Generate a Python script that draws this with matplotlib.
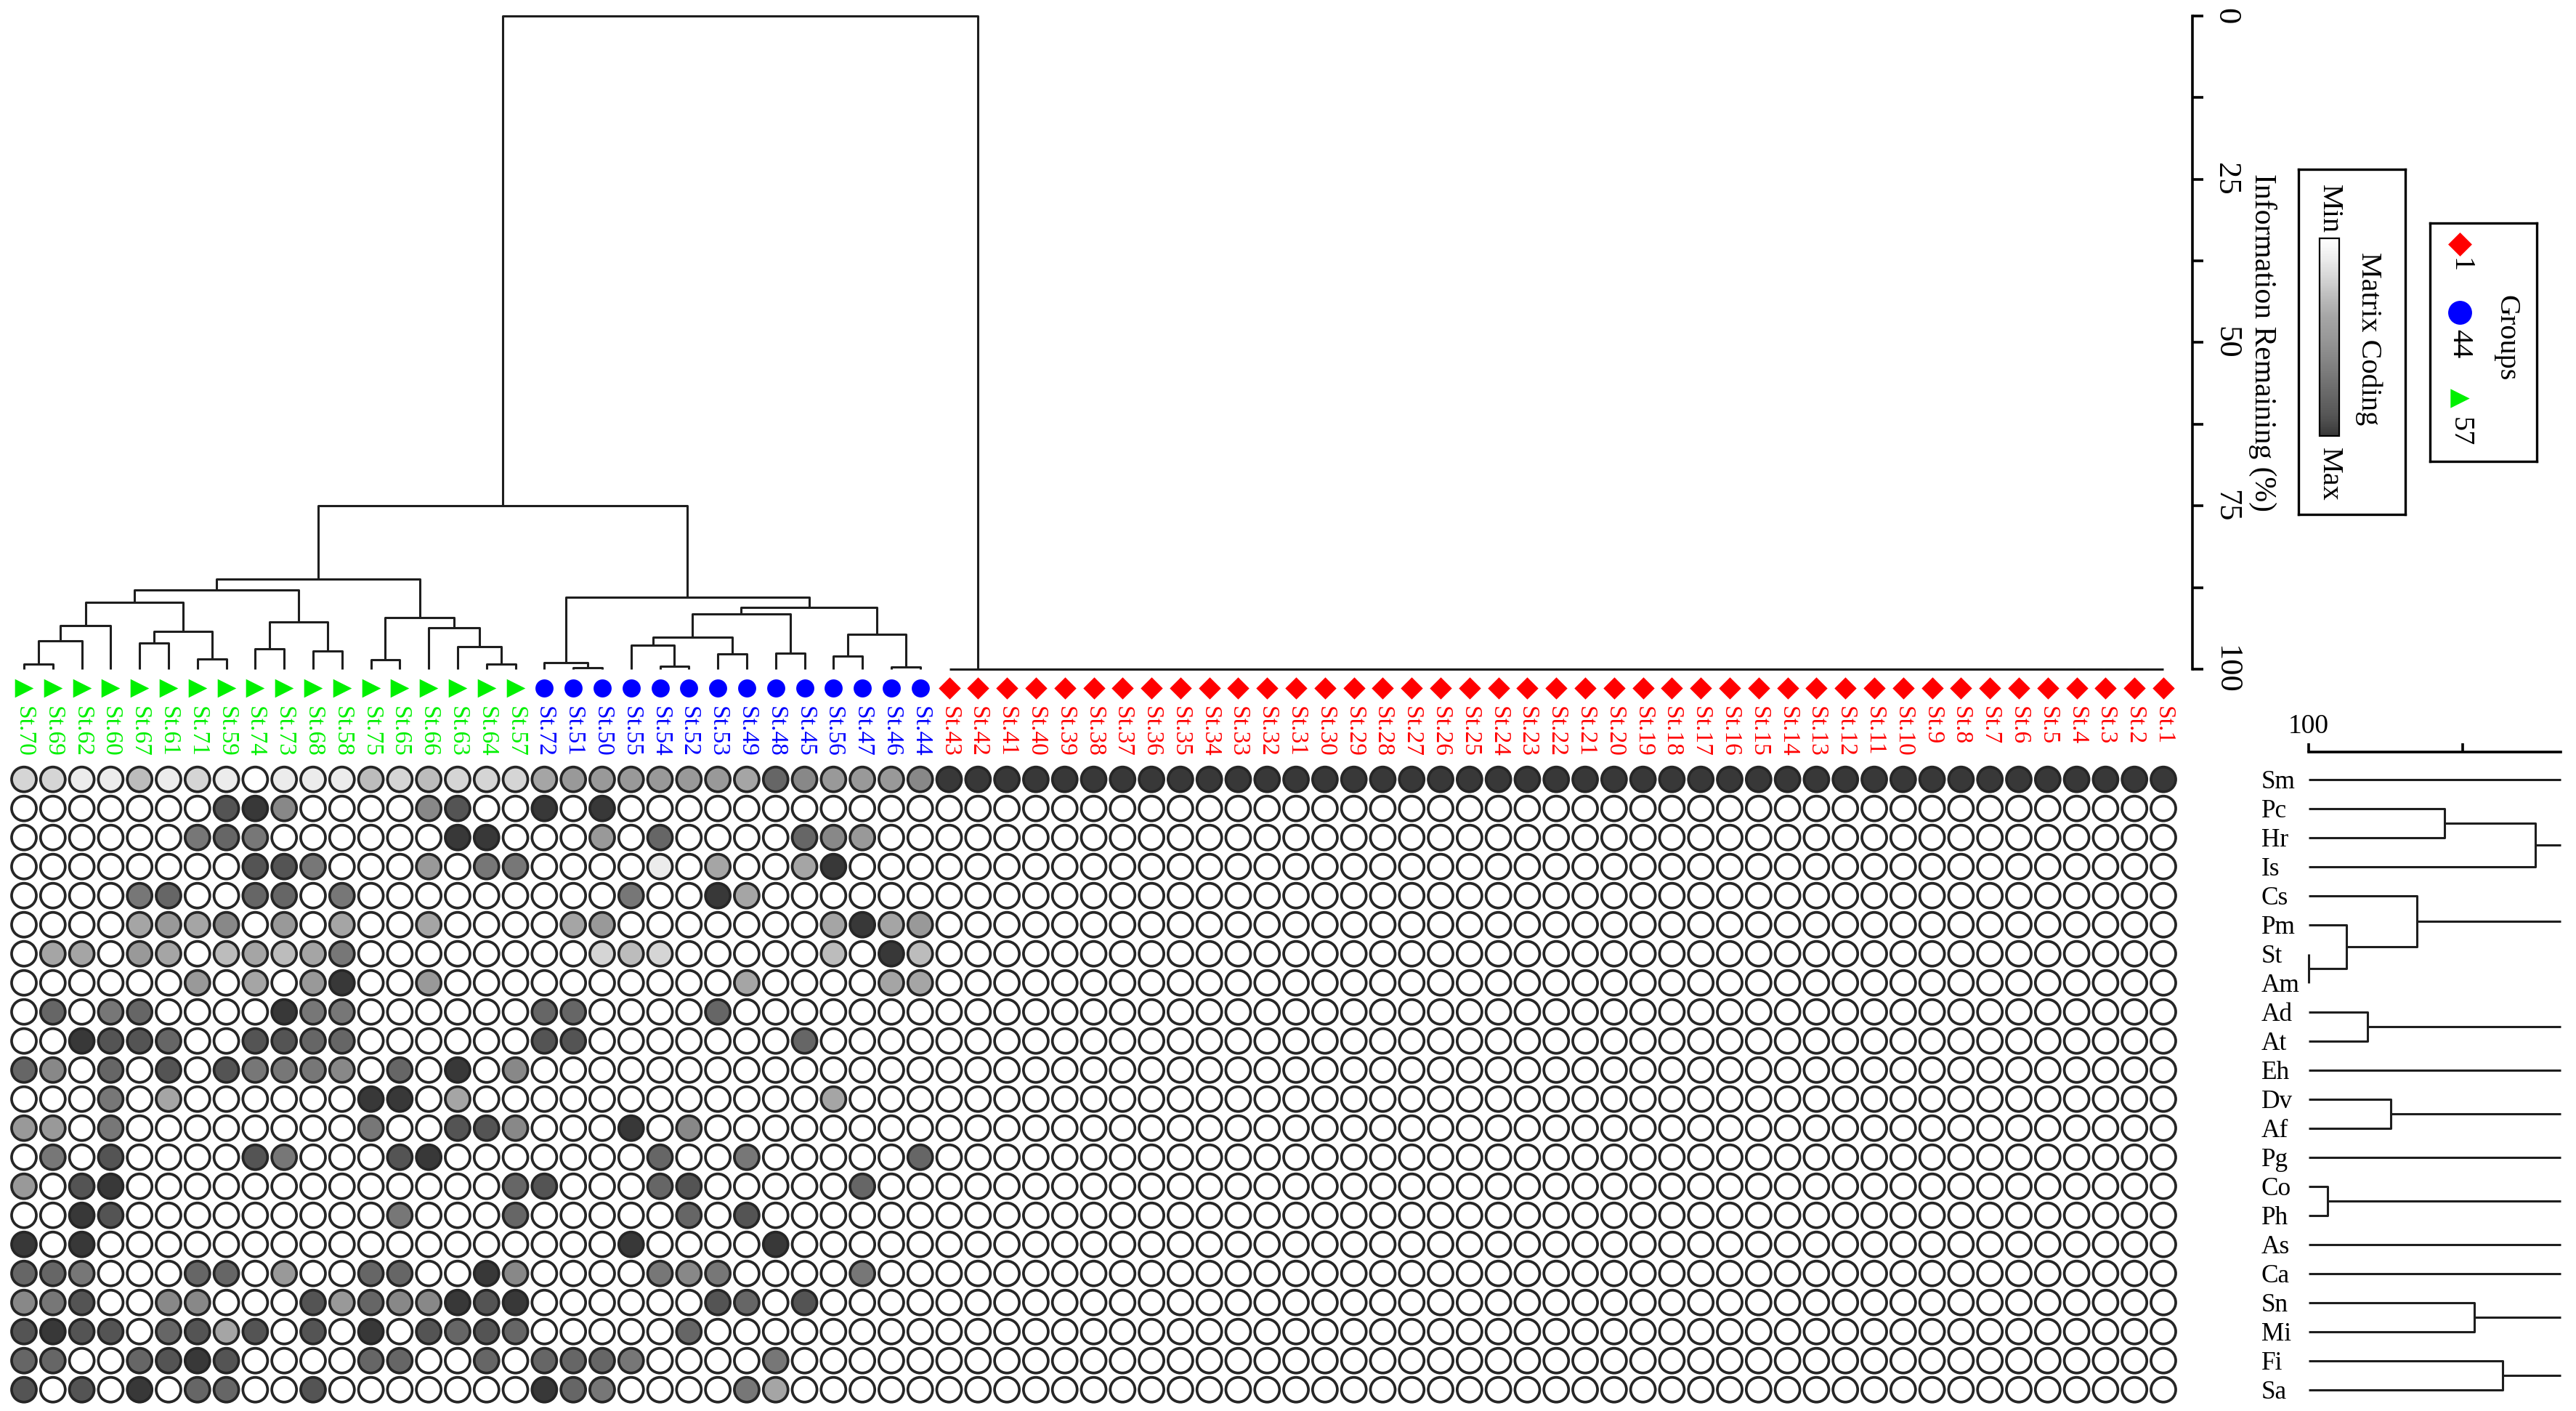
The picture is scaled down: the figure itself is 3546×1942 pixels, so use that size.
import numpy as np
import matplotlib
matplotlib.use("Agg")
import matplotlib.pyplot as plt
from matplotlib.colors import LinearSegmentedColormap, Normalize
from matplotlib.cm import ScalarMappable

plt.rcParams['font.family'] = ['Liberation Serif', 'DejaVu Serif']

W, H = 3546, 1942  # output size in px (dpi 200)

# ---- stations, in dendrogram order (left to right) ----
green_st = ['St.70', 'St.69', 'St.62', 'St.60', 'St.67', 'St.61', 'St.71', 'St.59', 'St.74',
            'St.73', 'St.68', 'St.58', 'St.75', 'St.65', 'St.66', 'St.63', 'St.64', 'St.57']
blue_st = ['St.72', 'St.51', 'St.50', 'St.55', 'St.54', 'St.52', 'St.53', 'St.49', 'St.48',
           'St.45', 'St.56', 'St.47', 'St.46', 'St.44']
red_st = ['St.43', 'St.42', 'St.41', 'St.40', 'St.39', 'St.38', 'St.37', 'St.36', 'St.35',
          'St.34', 'St.33', 'St.32', 'St.31', 'St.30', 'St.29', 'St.28', 'St.27', 'St.26',
          'St.25', 'St.24', 'St.23', 'St.22', 'St.21', 'St.20', 'St.19', 'St.18', 'St.17',
          'St.16', 'St.15', 'St.14', 'St.13', 'St.12', 'St.11', 'St.10', 'St.9', 'St.8',
          'St.7', 'St.6', 'St.5', 'St.4', 'St.3', 'St.2', 'St.1']

groups = ['1', '44', '57']
group_members = {'1': red_st, '44': blue_st, '57': green_st}
group_color = {'1': '#ff0000', '44': '#0000ff', '57': '#00f000'}
group_marker = {'1': 'D', '44': 'o', '57': '>'}

variables = ['Sm', 'Pc', 'Hr', 'Is', 'Cs', 'Pm', 'St', 'Am', 'Ad', 'At', 'Eh',
             'Dv', 'Af', 'Pg', 'Co', 'Ph', 'As', 'Ca', 'Sn', 'Mi', 'Fi', 'Sa']

# ---- matrix coding: 0 = min (white) ... X = max (darkest) ----
RED_MAX = "XXXXXXXXXX" "XXXXXXXXXX" "XXXXXXXXXX" "XXXXXXXXXX" "XXX"
RED_NIL = "0000000000" "0000000000" "0000000000" "0000000000" "000"
coding = {
    'Sm': "2211312101113232" "2245555554865556" + RED_MAX,
    'Pc': "00000009X6000069" "00X0X00000000000" + RED_NIL,
    'Hr': "000000787000000X" "X000508000086500" + RED_NIL,
    'Is': "0000000099700050" "770000104004X000" + RED_NIL,
    'Cs': "0000780088070000" "00000700X4000000" + RED_NIL,
    'Pm': "0000454605040040" "0004500000004X45" + RED_NIL,
    'St': "0440540343470000" "00002320000030X3" + RED_NIL,
    'Am': "00000050405X0050" "0000000004000044" + RED_NIL,
    'Ad': "080780000X770000" "0088000080000000" + RED_NIL,
    'At': "00X9980099880000" "0099000000080000" + RED_NIL,
    'Eh': "860809097776080X" "0600000000000000" + RED_NIL,
    'Dv': "000704000000XX04" "0000000000004000" + RED_NIL,
    'Af': "5507000000007009" "96000X0600000000" + RED_NIL,
    'Pg': "07090000970009X0" "0000008007000008" + RED_NIL,
    'Co': "509X000000000000" "0890008900000800" + RED_NIL,
    'Ph': "00X9000000000700" "0800000809000000" + RED_NIL,
    'As': "X0X0000000000000" "00000X0000X00000" + RED_NIL,
    'Ca': "8870008805008800" "X600007670000700" + RED_NIL,
    'Sn': "679006600095866X" "9X00000098090000" + RED_NIL,
    'Mi': "9X9908949090X098" "9800000800000000" + RED_NIL,
    'Fi': "880089X900008800" "8088870000700000" + RED_NIL,
    'Sa': "9090X08800900000" "00X8700007400000" + RED_NIL,
}
code_greys = ['#ffffff', '#ececec', '#d5d5d5', '#bbbbbb', '#a5a5a5', '#999999',
              '#888888', '#777777', '#666666', '#555555', '#383838']

# ---- station dendrogram (information remaining, %) ----
station_merges = [
    ('g1', 'St.70', 'St.69', 99.2), ('g2', 'g1', 'St.62', 95.7), ('g3', 'g2', 'St.60', 93.3),
    ('g4', 'St.67', 'St.61', 96.0), ('g5', 'St.71', 'St.59', 98.4), ('g6', 'g4', 'g5', 94.2),
    ('g7', 'g3', 'g6', 89.8), ('g8', 'St.74', 'St.73', 96.9), ('g9', 'St.68', 'St.58', 97.2),
    ('g10', 'g8', 'g9', 92.8), ('g11', 'g7', 'g10', 87.9), ('g12', 'St.75', 'St.65', 98.6),
    ('g13', 'St.64', 'St.57', 99.2), ('g14', 'St.63', 'g13', 96.6), ('g15', 'St.66', 'g14', 93.7),
    ('g16', 'g12', 'g15', 92.1), ('G', 'g11', 'g16', 86.2),
    ('b1', 'St.51', 'St.50', 99.8), ('b2', 'St.72', 'b1', 99.0), ('b3', 'St.54', 'St.52', 99.5),
    ('b4', 'St.55', 'b3', 96.3), ('b5', 'St.53', 'St.49', 97.7), ('b6', 'b4', 'b5', 95.1),
    ('b7', 'St.48', 'St.45', 97.5), ('b8', 'b6', 'b7', 91.5), ('b9', 'St.56', 'St.47', 98.0),
    ('b10', 'St.46', 'St.44', 99.7), ('b11', 'b9', 'b10', 94.7), ('b12', 'b8', 'b11', 90.6),
    ('B', 'b2', 'b12', 89.0), ('GB', 'G', 'B', 75.0),
]
red_join = 100.0   # all group-1 stations are identical
root_level = 0.0

# ---- variable dendrogram ----
var_merges = [
    ('v1', 'Pc', 'Hr', 55.9), ('v2', 'v1', 'Is', 26.4),
    ('v3', 'St', 'Am', 100.0), ('v4', 'Pm', 'v3', 87.7), ('v5', 'Cs', 'v4', 64.9),
    ('v6', 'Ad', 'At', 80.9), ('v7', 'Dv', 'Af', 73.3), ('v8', 'Co', 'Ph', 93.9),
    ('v9', 'Sn', 'Mi', 46.2), ('v10', 'Fi', 'Sa', 37.0),
]
var_open = ['Sm', 'v2', 'v5', 'v6', 'Eh', 'v7', 'Pg', 'v8', 'As', 'Ca', 'v9', 'v10']


def px_box(x0, y0, x1, y1):
    return [x0 / W, 1 - y1 / H, (x1 - x0) / W, (y1 - y0) / H]


def draw_tree(ax, merges, leaf_pos, leaf_level, vertical_leaves, **kw):
    pos = dict(leaf_pos)
    lev = {k: leaf_level for k in leaf_pos}
    for name, a, b, h in merges:
        pa, pb = pos[a], pos[b]
        xs = [pa, pa, pb, pb]
        ys = [lev[a], h, h, lev[b]]
        if vertical_leaves:
            ax.plot(xs, ys, **kw)
        else:
            ax.plot(ys, xs, **kw)
        pos[name] = (pa + pb) / 2
        lev[name] = h
    return pos, lev


stations = green_st + blue_st + red_st
st_group = {s: g for g in groups for s in group_members[g]}
ncol, nrow = len(stations), len(variables)
col_idx = {s: i for i, s in enumerate(stations)}

# red cluster as a chain of identical fusions, then the root
red_merges = []
prev = red_st[-1]
for k, s in enumerate(reversed(red_st[:-1])):
    red_merges.append(('r%d' % k, s, prev, red_join))
    prev = 'r%d' % k
all_merges = station_merges + red_merges + [('root', 'GB', prev, root_level)]

fig = plt.figure(figsize=(W / 200, H / 200), dpi=200)
line_kw = dict(color='#1e1e1e', lw=1.1, solid_capstyle='butt', clip_on=False)

# ---- top dendrogram ----
ax_top = fig.add_axes(px_box(13.1, 22, 3017.8, 921))
draw_tree(ax_top, all_merges, col_idx, 100.0, True, **line_kw)
ax_top.set_xlim(-0.5, 75.0)
ax_top.set_ylim(100, 0)
for sp in ['top', 'bottom', 'left']:
    ax_top.spines[sp].set_visible(False)
ax_top.spines['right'].set_linewidth(1.3)
ax_top.set_xticks([])
ax_top.yaxis.tick_right()
ax_top.set_yticks([0, 25, 50, 75, 100])
ax_top.set_yticks([12.5, 37.5, 62.5, 87.5], minor=True)
ax_top.set_yticklabels(['0', '25', '50', '75', '100'], rotation=270, va='center', fontsize=16)
ax_top.tick_params(axis='y', which='both', direction='out', length=5.4, width=1.3, pad=4)
ax_top.yaxis.set_label_position('right')
ax_top.set_ylabel('Information Remaining (%)', rotation=270, va='bottom', fontsize=15, labelpad=4)

# ---- leaf symbols and station labels ----
ax_leaf = fig.add_axes(px_box(13.1, 930, 2997.9, 964))
for g in groups:
    xs = [col_idx[s] for s in group_members[g]]
    ax_leaf.scatter(xs, np.zeros(len(xs)), marker=group_marker[g], c=group_color[g],
                    s={'1': 60, '44': 80, '57': 85}[g], linewidths=0, clip_on=False)
ax_leaf.set_xlim(-0.5, ncol - 0.5)
ax_leaf.set_ylim(-1, 1)
ax_leaf.set_yticks([])
ax_leaf.set_xticks(range(ncol))
ax_leaf.set_xticklabels(stations, rotation=270, fontsize=12)
for lbl, s in zip(ax_leaf.get_xticklabels(), stations):
    lbl.set_color(group_color[st_group[s]])
ax_leaf.tick_params(axis='x', length=0, pad=3)
for sp in ax_leaf.spines.values():
    sp.set_visible(False)
ax_leaf.patch.set_alpha(0)

# ---- circle matrix ----
cmap = LinearSegmentedColormap.from_list('coding', code_greys, N=256)
norm = Normalize(vmin=0, vmax=10)
vals = np.array([[10 if c == 'X' else int(c) for c in coding[v]] for v in variables], dtype=float)
assert vals.shape == (nrow, ncol)
cc, rr = np.meshgrid(np.arange(ncol), np.arange(nrow))
ax_mat = fig.add_axes(px_box(13.1, 1052.7, 2997.9, 1932.7))
ax_mat.scatter(cc.ravel(), rr.ravel(), c=vals.ravel(), cmap=cmap, norm=norm, s=150,
               edgecolors='#262626', linewidths=1.35, clip_on=False)
ax_mat.set_xlim(-0.5, ncol - 0.5)
ax_mat.set_ylim(nrow - 0.5, -0.5)
ax_mat.axis('off')

# ---- variable dendrogram ----
ax_var = fig.add_axes(px_box(3178, 1052.7, 3525, 1932.7))
var_idx = {v: i for i, v in enumerate(variables)}
vpos, vlev = draw_tree(ax_var, var_merges, var_idx, 100.0, False, **line_kw)
ax_var.set_xlim(100, 18.2)
ax_var.set_ylim(nrow - 0.5, -0.5)
for node in var_open:
    ax_var.plot([vlev[node], ax_var.get_xlim()[1]], [vpos[node], vpos[node]], **line_kw)
for sp in ['bottom', 'left', 'right']:
    ax_var.spines[sp].set_visible(False)
ax_var.spines['top'].set_position(('outward', 6.5))
ax_var.spines['top'].set_linewidth(1.3)
ax_var.xaxis.tick_top()
ax_var.set_xticks([100, 50])
ax_var.set_xticklabels(['100', ''], fontsize=13.5)
ax_var.tick_params(axis='x', direction='out', length=4.3, width=1.3, pad=2)
ax_var.set_yticks(range(nrow))
ax_var.set_yticklabels(variables, ha='left', fontsize=12.7)
ax_var.tick_params(axis='y', length=0, pad=23.4)

# ---- legend: matrix coding ----
ax_mc = fig.add_axes(px_box(3164, 233, 3311, 708))
ax_mc.set_xticks([])
ax_mc.set_yticks([])
for sp in ax_mc.spines.values():
    sp.set_linewidth(1.2)
ax_mc.text(0.286, 0.886, 'Min', rotation=270, ha='center', va='center', fontsize=14.5, transform=ax_mc.transAxes)
ax_mc.text(0.286, 0.116, 'Max', rotation=270, ha='center', va='center', fontsize=14.5, transform=ax_mc.transAxes)
ax_mc.text(0.66, 0.51, 'Matrix Coding', rotation=270, ha='center', va='center', fontsize=14.5, transform=ax_mc.transAxes)
cax = fig.add_axes(px_box(3193, 328, 3220, 600))
cb = fig.colorbar(ScalarMappable(norm=norm, cmap=cmap), cax=cax)
cax.invert_yaxis()
cb.set_ticks([])
cb.outline.set_linewidth(0.8)

# ---- legend: groups ----
ax_gr = fig.add_axes(px_box(3345, 307, 3492, 635))
ax_gr.set_xticks([])
ax_gr.set_yticks([])
ax_gr.set_xlim(0, 1)
ax_gr.set_ylim(0, 1)
for sp in ax_gr.spines.values():
    sp.set_linewidth(1.2)
ax_gr.text(0.714, 0.518, 'Groups', rotation=270, ha='center', va='center', fontsize=14.5)
for g, ym, yt in zip(groups, [0.912, 0.625, 0.265], [0.823, 0.494, 0.125]):
    ax_gr.scatter([0.279], [ym], marker=group_marker[g], c=group_color[g],
                  s={'1': 70, '44': 140, '57': 90}[g], linewidths=0)
    ax_gr.text(0.279, yt, g, rotation=270, ha='center', va='center', fontsize=14.5)

fig.savefig('out.png', dpi=200)
